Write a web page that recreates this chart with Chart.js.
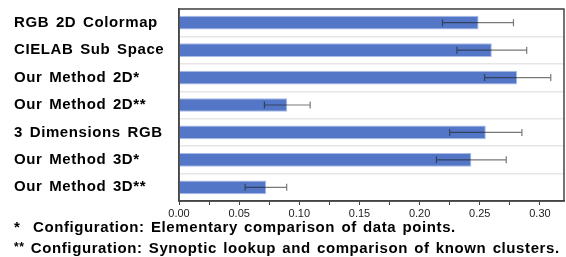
<!DOCTYPE html>
<html><head><meta charset="utf-8">
<script src="https://cdn.jsdelivr.net/npm/chart.js@4/dist/chart.umd.min.js"></script>
<style>
html,body{margin:0;padding:0;background:#fff;}
#wrap{position:relative;width:566px;height:257px;}
canvas{position:absolute;left:0;top:0;}
.note{position:absolute;left:14px;font-family:"Liberation Sans",Arial,sans-serif;font-weight:bold;font-size:15px;color:#000;white-space:nowrap;letter-spacing:0.6px;word-spacing:1.5px;}
</style></head>
<body>
<div id="wrap">
<canvas id="c" width="566" height="257"></canvas>
<div class="note" id="n1" style="top:218px;">*&nbsp; Configuration: Elementary comparison of data points.</div>
<div class="note" id="n2" style="top:239px;"><span style="font-size:12px;vertical-align:2px;">**</span> Configuration: Synoptic lookup and comparison of known clusters.</div>
</div>
<script>
const categories = ["RGB 2D Colormap","CIELAB Sub Space","Our Method 2D*","Our Method 2D**","3 Dimensions RGB","Our Method 3D*","Our Method 3D**"];
const values   = [0.249, 0.260, 0.281, 0.090, 0.255, 0.243, 0.0725];
const errLow   = [0.219, 0.231, 0.254, 0.071, 0.225, 0.214, 0.055];
const errHigh  = [0.278, 0.289, 0.309, 0.109, 0.285, 0.272, 0.0895];
const xTickLabels = ["0.00","0.05","0.10","0.15","0.20","0.25","0.30"];

const errorBars = {
  id:'errorBars',
  afterDatasetsDraw(chart){
    const ctx = chart.ctx, xs = chart.scales.x;
    const meta = chart.getDatasetMeta(0);
    ctx.save();
    ctx.strokeStyle = 'rgba(30,30,30,0.6)';
    ctx.lineWidth = 1.2;
    meta.data.forEach((bar,i)=>{
      const y = bar.y;
      const x1 = xs.getPixelForValue(errLow[i]);
      const x2 = xs.getPixelForValue(errHigh[i]);
      ctx.beginPath();
      ctx.moveTo(x1,y); ctx.lineTo(x2,y);
      ctx.moveTo(x1,y-3.5); ctx.lineTo(x1,y+3.5);
      ctx.moveTo(x2,y-3.5); ctx.lineTo(x2,y+3.5);
      ctx.stroke();
    });
    ctx.restore();
  }
};
const frame = {
  id:'frame',
  beforeDraw(chart){
    const y = chart.scales.y;
    if (y && !y._spaced){
      const orig = y.drawLabels;
      y.drawLabels = function(a){
        const ctx = this.ctx;
        ctx.save();
        ctx.letterSpacing = '0.6px';
        ctx.wordSpacing = '2px';
        orig.call(this,a);
        ctx.restore();
      };
      y._spaced = true;
    }
  },
  afterDraw(chart){
    const a = chart.chartArea, ctx = chart.ctx;
    ctx.save();
    ctx.strokeStyle = '#444';
    ctx.lineWidth = 1.5;
    ctx.strokeRect(a.left, a.top, a.right-a.left, a.bottom-a.top);
    ctx.restore();
  }
};

new Chart(document.getElementById('c'), {
  type:'bar',
  data:{
    labels:categories,
    datasets:[{
      data:values,
      backgroundColor:'rgb(83,119,198)',
      borderColor:'rgba(160,180,230,0.9)',
      borderWidth:1,
      categoryPercentage:1,
      barPercentage:0.5
    }]
  },
  options:{
    indexAxis:'y',
    responsive:false,
    animation:false,
    devicePixelRatio:1,
    layout:{padding:{left:14,right:2,top:7,bottom:0}},
    plugins:{legend:{display:false},tooltip:{enabled:false}},
    scales:{
      x:{
        min:0,max:0.32,
        afterFit(s){ s.height = 56; },
        afterBuildTicks(s){
          const t=[]; for(let i=0;i<=12;i++){ t.push({value:i*0.025}); } s.ticks=t;
        },
        ticks:{
          autoSkip:false,maxRotation:0,padding:2,
          color:'#222',
          font:{family:'"Liberation Sans", Arial, sans-serif',size:11},
          callback(v,i){ return i%2===0 ? xTickLabels[i/2] : ''; }
        },
        grid:{drawOnChartArea:false,drawTicks:true,tickLength:4,color:'#444'},
        border:{display:true,color:'#444',width:1.5}
      },
      y:{
        afterFit(s){ s.width = 165; },
        ticks:{
          crossAlign:'far',padding:0,
          color:'#000',
          font:{family:'"Liberation Sans", Arial, sans-serif',size:15,weight:'bold'}
        },
        grid:{offset:true,drawTicks:false,color:'#e6e6e6',lineWidth:1.5},
        border:{display:true,color:'#444',width:1.5}
      }
    }
  },
  plugins:[errorBars,frame]
});
</script>
</body></html>
